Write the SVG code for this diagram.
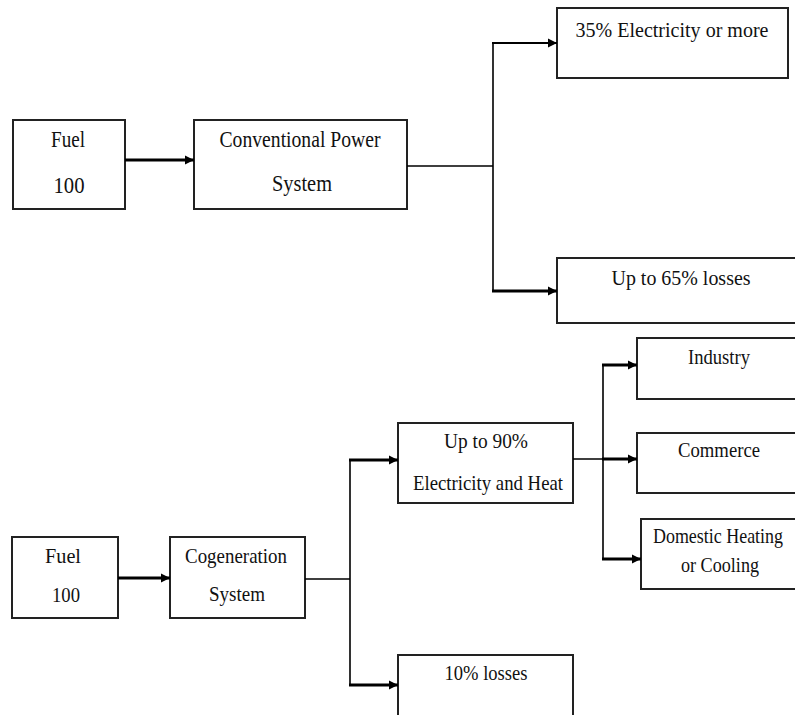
<svg xmlns="http://www.w3.org/2000/svg" width="795" height="715" viewBox="0 0 795 715">
  <defs>
    <marker id="arrow" markerUnits="userSpaceOnUse" markerWidth="10" markerHeight="10" refX="9" refY="5" orient="auto">
      <path d="M0,0.5 L9,5 L0,9.5 z" fill="#000"/>
    </marker>
    <style>
      .box { fill: #fff; stroke: #222; stroke-width: 2; }
      .label { font-family: "Liberation Serif", "Times New Roman", serif; font-size: 22px; fill: #111; text-anchor: middle; }
      .big { font-size: 24px; }
      .link { fill: none; stroke: #000; stroke-width: 1.6; }
      .flow { fill: none; stroke: #000; stroke-width: 3; marker-end: url(#arrow); }
    </style>
  </defs>
  <rect width="795" height="715" fill="#fff"/>

  <!-- Conventional generation -->
  <g id="fuel-top">
    <rect class="box" x="13" y="120" width="112" height="89"/>
    <text class="label big" x="68" y="147" textLength="34" lengthAdjust="spacingAndGlyphs">Fuel</text>
    <text class="label big" x="69" y="193" textLength="31" lengthAdjust="spacingAndGlyphs">100</text>
  </g>
  <g id="conventional">
    <rect class="box" x="194" y="120" width="213" height="89"/>
    <text class="label big" x="300" y="147" textLength="161" lengthAdjust="spacingAndGlyphs">Conventional Power</text>
    <text class="label big" x="302" y="191" textLength="60" lengthAdjust="spacingAndGlyphs">System</text>
  </g>
  <g id="electricity-35">
    <rect class="box" x="557" y="8" width="231" height="70"/>
    <text class="label" x="672" y="37" textLength="193" lengthAdjust="spacingAndGlyphs">35% Electricity or more</text>
  </g>
  <g id="losses-65">
    <rect class="box" x="557" y="258" width="245" height="65"/>
    <text class="label" x="681" y="285" textLength="139" lengthAdjust="spacingAndGlyphs">Up to 65% losses</text>
  </g>

  <!-- Cogeneration -->
  <g id="fuel-bottom">
    <rect class="box" x="12" y="537" width="106" height="81"/>
    <text class="label" x="63" y="563" textLength="36" lengthAdjust="spacingAndGlyphs">Fuel</text>
    <text class="label" x="66" y="602" textLength="28" lengthAdjust="spacingAndGlyphs">100</text>
  </g>
  <g id="cogeneration">
    <rect class="box" x="170" y="537" width="135" height="81"/>
    <text class="label" x="236" y="563" textLength="102" lengthAdjust="spacingAndGlyphs">Cogeneration</text>
    <text class="label" x="237" y="601" textLength="56" lengthAdjust="spacingAndGlyphs">System</text>
  </g>
  <g id="electricity-heat">
    <rect class="box" x="398" y="423" width="175" height="80"/>
    <text class="label" x="486" y="448" textLength="84" lengthAdjust="spacingAndGlyphs">Up to 90%</text>
    <text class="label" x="488" y="490" textLength="150" lengthAdjust="spacingAndGlyphs">Electricity and Heat</text>
  </g>
  <g id="losses-10">
    <rect class="box" x="398" y="655" width="175" height="70"/>
    <text class="label" x="486" y="680" textLength="83" lengthAdjust="spacingAndGlyphs">10% losses</text>
  </g>
  <g id="industry">
    <rect class="box" x="637" y="338" width="170" height="61"/>
    <text class="label" x="719" y="364" textLength="62" lengthAdjust="spacingAndGlyphs">Industry</text>
  </g>
  <g id="commerce">
    <rect class="box" x="637" y="433" width="170" height="60"/>
    <text class="label" x="719" y="457" textLength="82" lengthAdjust="spacingAndGlyphs">Commerce</text>
  </g>
  <g id="domestic">
    <rect class="box" x="641" y="519" width="166" height="70"/>
    <text class="label" x="718" y="543" textLength="130" lengthAdjust="spacingAndGlyphs">Domestic Heating</text>
    <text class="label" x="720" y="572" textLength="78" lengthAdjust="spacingAndGlyphs">or Cooling</text>
  </g>

  <!-- Connectors -->
  <g id="connectors">
    <!-- conventional path -->
    <line class="flow" x1="125" y1="160" x2="194" y2="160"/>
    <path class="link" d="M407,166 H493 M493,43 V291"/>
    <line class="flow" x1="492" y1="43" x2="557" y2="43" style="stroke-width:2"/>
    <line class="flow" x1="492" y1="291" x2="557" y2="291"/>
    <!-- cogeneration path -->
    <line class="flow" x1="118" y1="578" x2="170" y2="578"/>
    <path class="link" d="M305,579 H350 M350,460 V685"/>
    <line class="flow" x1="349" y1="460" x2="398" y2="460"/>
    <line class="flow" x1="349" y1="685" x2="398" y2="685"/>
    <!-- useful heat and power distribution -->
    <path class="link" d="M573,459 H603 M603,365 V559"/>
    <line class="flow" x1="602" y1="365" x2="637" y2="365"/>
    <line class="flow" x1="602" y1="459" x2="637" y2="459"/>
    <line class="flow" x1="602" y1="559" x2="641" y2="559"/>
  </g>
</svg>
